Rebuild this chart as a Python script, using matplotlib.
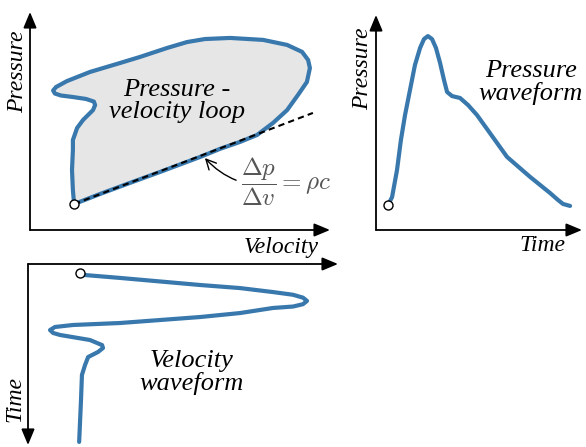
import matplotlib.pyplot as plt
import numpy as np

# Farben / Schrift
blue = '#3878ad'
fill_gray = '#e6e6e6'
serif = 'Liberation Serif'
plt.rcParams['mathtext.fontset'] = 'cm'

# Pressure-velocity loop (velocity, pressure), willkuerliche Einheiten 0..100
loop_v = [14.7, 23.3, 33.3, 43.3, 56.7, 63.3, 70.0, 75.7, 81.0, 85.7, 89.3, 92.3,
          93.3, 92.7, 90.7, 85.7, 77.7, 66.7, 58.3, 52.3, 45.7, 36.7, 30.0, 20.0,
          12.3, 8.7, 7.7, 8.3, 10.3, 14.3, 18.7, 21.3, 21.7, 21.0, 17.7, 15.7,
          14.3, 14.3, 14.0, 14.3, 14.7]
loop_p = [11.9, 16.5, 21.6, 26.6, 33.5, 37.2, 40.4, 43.6, 49.1, 55.0, 61.9, 67.9,
          74.3, 78.0, 81.7, 84.9, 87.2, 88.1, 87.6, 86.2, 83.5, 79.4, 76.6, 72.5,
          68.3, 65.6, 64.0, 62.6, 61.7, 61.0, 60.1, 58.9, 57.3, 55.0, 50.5, 46.8,
          41.3, 36.7, 27.5, 18.3, 11.9]
# Gerade dp/dv = rho c
line_v = [14.7, 94.3]
line_p = [11.9, 53.7]

# Druckkurve (Zeit, Druck)
pw_t = [5.8, 7.8, 10.2, 12.1, 14.1, 16.5, 18.9, 21.4, 23.3, 25.2, 27.2, 29.1,
        31.1, 33.0, 34.5, 36.9, 40.8, 44.7, 49.0, 55.3, 63.6, 74.8, 84.5, 88.3,
        90.8, 94.2]
pw_p = [11.6, 15.3, 27.9, 41.9, 53.5, 65.1, 76.7, 84.7, 88.8, 90.2, 88.8, 84.7,
        77.7, 69.8, 64.2, 62.3, 61.4, 58.1, 53.5, 45.1, 34.0, 24.7, 17.2, 14.0,
        12.1, 11.2]

# Geschwindigkeitskurve (Geschwindigkeit, Zeit nach unten)
vw_v = [16.8, 18.4, 29.7, 55.5, 68.4, 79.0, 85.5, 88.7, 90.0, 88.7, 85.5, 79.0,
        68.4, 55.5, 29.7, 14.5, 8.7, 7.1, 8.1, 10.3, 20.0, 23.9, 24.2, 22.6,
        19.4, 18.4, 17.4, 17.1, 16.5]
vw_t = [5.0, 6.1, 7.7, 11.6, 13.3, 15.5, 17.0, 18.6, 20.4, 22.2, 23.5, 24.3,
        27.1, 29.3, 32.6, 33.7, 34.8, 36.5, 38.1, 39.2, 42.0, 44.8, 46.4, 48.6,
        51.4, 55.8, 61.3, 75.1, 98.3]

W, H = 586, 447
fig = plt.figure(figsize=(W / 100, H / 100), dpi=100)


def make_ax(x0, y0, x1, y1):
    # Pixelbox (oben links / unten rechts) -> Achse
    ax = fig.add_axes([x0 / W, 1 - y1 / H, (x1 - x0) / W, (y1 - y0) / H])
    ax.set_xlim(0, 100)
    ax.set_ylim(0, 100)
    ax.axis('off')
    return ax


def arrow(ax, start, end):
    ax.annotate('', xy=end, xytext=start, xycoords='axes fraction',
                textcoords='axes fraction',
                arrowprops=dict(arrowstyle='-|>,head_length=0.6,head_width=0.25',
                                color='black', lw=1.3,
                                mutation_scale=16, shrinkA=0, shrinkB=0))


label_kw = dict(family=serif, style='italic', fontsize=17, ha='center', va='center')
text_kw = dict(family=serif, style='italic', fontsize=19, ha='center', va='center',
               linespacing=1.0)
curve_kw = dict(color=blue, lw=3, solid_joinstyle='round', solid_capstyle='round',
                zorder=2)
dot_kw = dict(marker='o', ms=6.5, mfc='white', mec='black', mew=1, zorder=4)

# --- Pressure-velocity loop ---
ax1 = make_ax(30, 12, 330, 230)
ax1.fill(loop_v, loop_p, color=fill_gray, zorder=1)
ax1.plot(loop_v, loop_p, **curve_kw)
ax1.plot(line_v, line_p, color='black', lw=1.5, ls=(0, (3, 2)), zorder=3)
ax1.plot(loop_v[0], loop_p[0], **dot_kw)
arrow(ax1, (0, 0), (0, 1))
arrow(ax1, (0, 0), (1, 0))
ax1.text(-0.04, 0.725, 'Pressure', rotation=90, transform=ax1.transAxes, **label_kw)
ax1.text(0.837, -0.078, 'Velocity', transform=ax1.transAxes, **label_kw)
ax1.text(49, 59, 'Pressure -\nvelocity loop', **text_kw)
ax1.annotate(r'$\dfrac{\Delta p}{\Delta v} = \rho c$', xy=(58.3, 33.0), xytext=(70.5, 22),
             fontsize=18, color='#555555', ha='left', va='center',
             arrowprops=dict(arrowstyle='->', color='black', lw=1,
                             connectionstyle='arc3,rad=-0.3', shrinkA=2, shrinkB=0))

# --- Pressure waveform ---
ax2 = make_ax(376, 15, 582, 230)
ax2.plot(pw_t, pw_p, **curve_kw)
ax2.plot(pw_t[0], pw_p[0], **dot_kw)
arrow(ax2, (0, 0), (0, 1))
arrow(ax2, (0, 0), (1, 0))
ax2.text(-0.063, 0.749, 'Pressure', rotation=90, transform=ax2.transAxes, **label_kw)
ax2.text(0.81, -0.074, 'Time', transform=ax2.transAxes, **label_kw)
ax2.text(75.2, 68.8, 'Pressure\nwaveform', **text_kw)

# --- Velocity waveform ---
ax3 = make_ax(28, 264, 338, 445)
ax3.set_ylim(100, 0)
ax3.plot(vw_v, vw_t, **curve_kw)
ax3.plot(vw_v[0], vw_t[0], **dot_kw)
arrow(ax3, (0, 1), (1, 1))
arrow(ax3, (0, 1), (0, 0))
ax3.text(-0.042, 0.254, 'Time', rotation=90, transform=ax3.transAxes, **label_kw)
ax3.text(52.9, 60.2, 'Velocity\nwaveform', **text_kw)

fig.savefig('out.png', dpi=100)
